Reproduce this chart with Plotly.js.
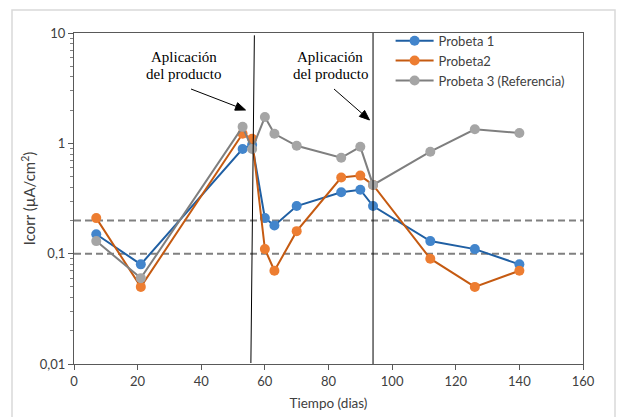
<!DOCTYPE html>
<html>
<head>
<meta charset="utf-8">
<script src="https://cdn.plot.ly/plotly-3.0.1.min.js"></script>
<style>
html,body{margin:0;padding:0;background:#fff;}
#chart{width:622px;height:417px;}
</style>
</head>
<body>
<div id="chart"></div>
<script>
// ---- data ----
const dias = [7, 21, 53, 56, 60, 63, 70, 84, 90, 94, 112, 126, 140];
const probeta1 = [0.15, 0.08, 0.89, 0.97, 0.21, 0.18, 0.27, 0.36, 0.38, 0.27, 0.13, 0.11, 0.08];
const probeta2 = [0.21, 0.05, 1.22, 1.10, 0.11, 0.07, 0.16, 0.49, 0.51, 0.42, 0.09, 0.05, 0.07];
const probeta3 = [0.13, 0.06, 1.41, 0.89, 1.73, 1.22, 0.95, 0.74, 0.93, 0.42, 0.84, 1.34, 1.24];
const seriesNames = ["Probeta 1", "Probeta2", "Probeta 3 (Referencia)"];
const umbrales = [0.2, 0.1];
const umbralX = [0, 160];
const aplicaciones = [56, 94];
const etiquetaLineas = ["Aplicación", "del producto"];
const xTicks = [0, 20, 40, 60, 80, 100, 120, 140, 160];
const yTickVals = [0.01, 0.1, 1, 10];
const yTickText = ["0,01", "0,1", "1", "10"];

const lineColors = ["#1f5fa3", "#c55a11", "#7f7f7f"];
const markerColors = ["#4285cc", "#ed7d31", "#a5a5a5"];
const allSeries = [probeta1, probeta2, probeta3];

const traces = [];
umbrales.forEach(u => {
  traces.push({
    x: umbralX, y: umbralX.map(() => u), mode: "lines", showlegend: false,
    hoverinfo: "skip",
    line: {color: "#808080", width: 2, dash: "7px,4px"}
  });
});
allSeries.forEach((s, i) => {
  traces.push({
    x: dias, y: s, name: seriesNames[i], mode: "lines+markers",
    line: {color: lineColors[i], width: 2},
    marker: {color: markerColors[i], size: 10}
  });
});

const gridCol = "#595959";
const fontSans = "Lato, 'Open Sans', sans-serif";
const fontSerif = "'Liberation Serif', 'DejaVu Serif', serif";

// plot area geometry (px) for placing decorative arrows
const M = {l: 74, r: 39, t: 33, b: 53};
const W = 622, H = 417;
const pw = W - M.l - M.r, ph = H - M.t - M.b;
const px = x => (x - M.l) / pw;
const py = y => (H - M.b - y) / ph;

function arrowShapes(tail, head) {
  const dx = head[0] - tail[0], dy = head[1] - tail[1];
  const L = Math.hypot(dx, dy), ux = dx / L, uy = dy / L;
  const hl = 10, hw = 4;
  const bx = head[0] - hl * ux, by = head[1] - hl * uy;
  const p1 = [bx - hw * uy, by + hw * ux], p2 = [bx + hw * uy, by - hw * ux];
  return [
    {type: "line", xref: "paper", yref: "paper", x0: px(tail[0]), y0: py(tail[1]), x1: px(bx), y1: py(by),
     line: {color: "#000", width: 1}},
    {type: "path", xref: "paper", yref: "paper",
     path: `M ${px(head[0])} ${py(head[1])} L ${px(p1[0])} ${py(p1[1])} L ${px(p2[0])} ${py(p2[1])} Z`,
     fillcolor: "#000", line: {color: "#000", width: 1}}
  ];
}

const shapes = [
  {type: "line", xref: "x", yref: "paper", x0: aplicaciones[0] - 0.4, x1: aplicaciones[0] + 0.7, y0: 0.003, y1: 0.993,
   line: {color: "#000", width: 1}},
  {type: "line", xref: "x", yref: "paper", x0: aplicaciones[1], x1: aplicaciones[1], y0: 0, y1: 1,
   line: {color: "#000", width: 1}},
  {type: "rect", xref: "paper", yref: "paper", x0: px(12), x1: px(615), y0: py(425), y1: py(10),
   line: {color: "#d9d9d9", width: 1.5}, layer: "below"},
  ...arrowShapes([191, 89], [245.5, 110]),
  ...arrowShapes([334, 89], [369.5, 120])
];

const annotations = [];
[34.5, 80.6].forEach(xc => {
  etiquetaLineas.forEach((t, k) => {
    annotations.push({xref: "x", yref: "paper", x: xc, y: py(57 + k * 17), text: t,
      showarrow: false, yanchor: "middle", font: {family: fontSerif, size: 15, color: "#000"}});
  });
});

const layout = {
  width: W, height: H,
  margin: M,
  paper_bgcolor: "#fff", plot_bgcolor: "#fff",
  font: {family: fontSans, size: 13, color: "#404040"},
  showlegend: true,
  legend: {x: 0.622, y: 1.022, xanchor: "left", yanchor: "top",
           bgcolor: "rgba(0,0,0,0)", font: {family: fontSans, size: 13, color: "#404040"},
           itemwidth: 38, tracegroupgap: 0},
  xaxis: {
    range: [0, 160], tickvals: xTicks, ticks: "outside", ticklen: 5, tickcolor: gridCol,
    showline: true, linecolor: gridCol, linewidth: 1, mirror: true, showgrid: false, zeroline: false,
    tickfont: {family: fontSans, size: 13, color: "#404040"},
    title: {text: "Tiempo (dias)", font: {family: fontSans, size: 13.5, color: "#404040"}, standoff: 10}
  },
  yaxis: {
    type: "log", range: [-2, 1], tickvals: yTickVals, ticktext: yTickText,
    ticks: "outside", ticklen: 5, tickcolor: gridCol,
    minor: {ticks: "outside", ticklen: 3, tickcolor: "#808080", dtick: "D1", showgrid: false},
    showline: true, linecolor: gridCol, linewidth: 1, mirror: true, showgrid: false, zeroline: false,
    tickfont: {family: fontSans, size: 13, color: "#404040"},
    title: {text: "Icorr (µA/cm<sup>2</sup>)", font: {family: fontSans, size: 15, color: "#404040"}, standoff: 0}
  },
  shapes: shapes,
  annotations: annotations
};

Plotly.newPlot("chart", traces, layout, {displayModeBar: false, staticPlot: true});
</script>
</body>
</html>
